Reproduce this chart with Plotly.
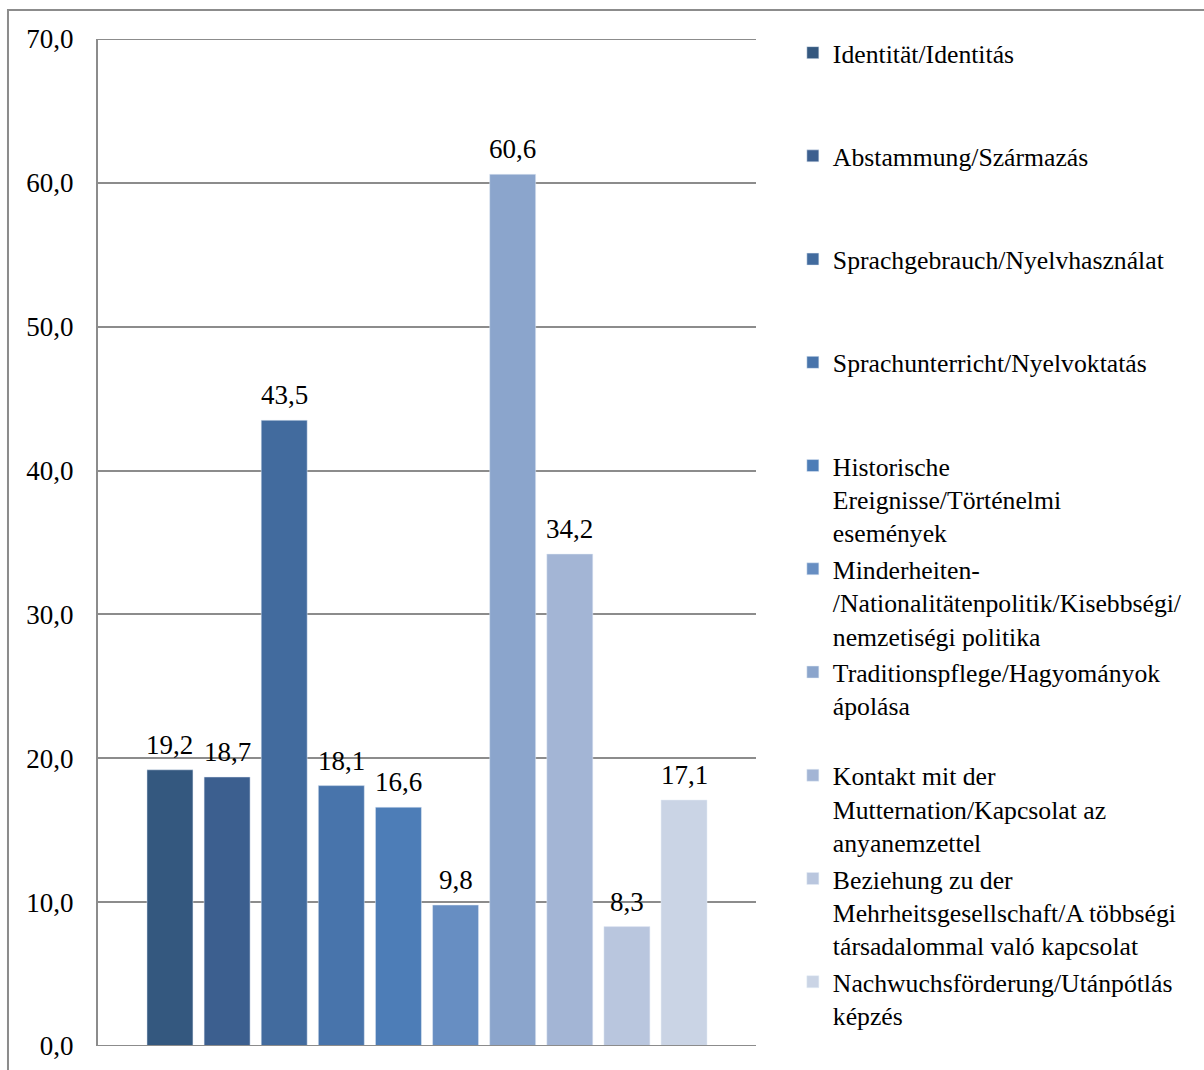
import plotly.graph_objects as go

categories = [
    "Identität/Identitás",
    "Abstammung/Származás",
    "Sprachgebrauch/Nyelvhasználat",
    "Sprachunterricht/Nyelvoktatás",
    "Historische<br>Ereignisse/Történelmi<br>események",
    "Minderheiten-<br>/Nationalitätenpolitik/Kisebbségi/<br>nemzetiségi politika",
    "Traditionspflege/Hagyományok<br>ápolása",
    "Kontakt mit der<br>Mutternation/Kapcsolat az<br>anyanemzettel",
    "Beziehung zu der<br>Mehrheitsgesellschaft/A többségi<br>társadalommal való kapcsolat",
    "Nachwuchsförderung/Utánpótlás<br>képzés",
]
values = [19.2, 18.7, 43.5, 18.1, 16.6, 9.8, 60.6, 34.2, 8.3, 17.1]
colors = ["#34587F", "#3C5F8F", "#426B9E", "#4874AB", "#4D7DB7",
          "#678EC2", "#8BA5CC", "#A3B5D5", "#B9C6DE", "#CAD4E5"]
y_ticks = [0, 10, 20, 30, 40, 50, 60, 70]

FONT = "Liberation Serif"
GRID = "#8C8C8C"

fig = go.Figure()
n = len(categories)
for i, (name, v, c) in enumerate(zip(categories, values, colors)):
    nlines = name.count("<br>") + 1
    label = name if i == n - 1 else name + "<br> " * (3 - nlines)
    fig.add_trace(go.Bar(
        x=[i], y=[v], name=label, marker_color=c, width=0.805,
        legendgroup=f"g{i}",
    ))

annotations = [
    dict(x=i, y=v, xref="x", yref="y", text=f"{v:.1f}".replace(".", ","),
         showarrow=False, yanchor="bottom", yshift=8,
         font=dict(family=FONT, size=27, color="#000000"))
    for i, v in enumerate(values)
]

fig.update_layout(
    width=1204, height=1070,
    margin=dict(l=98, r=448, t=39, b=24, autoexpand=False),
    paper_bgcolor="white", plot_bgcolor="white",
    barmode="overlay",
    separators=",.",
    font=dict(family=FONT, size=27, color="#000000"),
    showlegend=True,
    legend=dict(
        x=1.056, xanchor="left", y=1.0095, yanchor="top",
        valign="top", traceorder="normal",
        font=dict(family=FONT, size=25.7, color="#000000"),
        bgcolor="rgba(0,0,0,0)", maxheight=1,
    ),
    xaxis=dict(range=[-1.26, 10.26], showticklabels=False, showgrid=False,
               zeroline=False, showline=False),
    yaxis=dict(range=[0, 70], tickvals=y_ticks, tickformat=".1f",
               showgrid=True, gridcolor=GRID, gridwidth=2,
               zeroline=False, showline=True, linecolor=GRID,
               linewidth=2, ticks="", ticklabelstandoff=17,
               tickfont=dict(family=FONT, size=27, color="#000000")),
    annotations=annotations,
    shapes=[
        dict(type="rect", xref="paper", yref="paper",
             x0=-0.1368, x1=2.0, y0=-1.0, y1=1.0288,
             line=dict(color=GRID, width=2), fillcolor="rgba(0,0,0,0)",
             layer="below"),
        dict(type="line", xref="paper", yref="y",
             x0=0, x1=1, y0=0, y1=0,
             line=dict(color=GRID, width=2)),
        dict(type="line", xref="paper", yref="y",
             x0=0, x1=1, y0=70, y1=70,
             line=dict(color=GRID, width=2), layer="below"),
    ],
)

fig.write_html("out.html")
